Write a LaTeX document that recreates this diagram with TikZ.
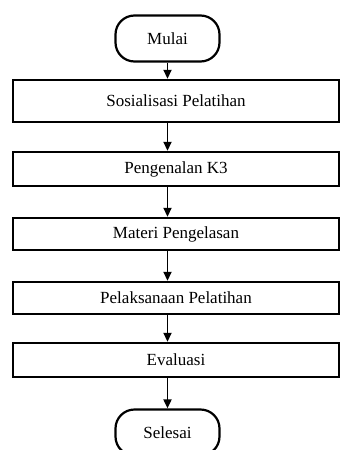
\documentclass[tikz,border=0pt]{standalone}
\usepackage{fontspec}
\setmainfont{Liberation Serif}
\usetikzlibrary{arrows.meta, positioning}

\tikzset{
  proses/.style={draw, line width=2.4pt, minimum width=326pt, minimum height=#1,
                 inner sep=0pt, fill=white},
  proses/.default=33pt,
  terminal/.style={draw, line width=2.2pt, rounded corners=19pt, minimum width=104pt,
                   minimum height=46pt, inner sep=0pt, fill=white},
  panah/.style={-{Triangle[length=9pt,width=8pt]}, line width=1.8pt}
}

\begin{document}
\begin{tikzpicture}[x=1pt, y=-1pt, font=\fontsize{17}{20}\selectfont]
  \useasboundingbox[fill=white] (0,0) rectangle (341,450);
  \clip (0,0) rectangle (341,450);

  \node[terminal] (mulai) at (167.5,38.5) {Mulai};

  \node[proses=42pt] (sos)  at (176,101) {Sosialisasi Pelatihan};
  \node[proses=34pt] (k3)   at (176,169) {Pengenalan K3};
  \node[proses=32pt] (mat)  at (176,234) {Materi Pengelasan};
  \node[proses=32pt] (pel)  at (176,298) {Pelaksanaan Pelatihan};
  \node[proses=34pt] (eval) at (176,360) {Evaluasi};

  \node[terminal] (selesai) at (167.5,432.5) {Selesai};

  % alur dari atas ke bawah
  \draw[panah] (mulai.south) -- (mulai.south |- sos.north);
  \foreach \a/\b in {sos/k3, k3/mat, mat/pel, pel/eval}
    \draw[panah] (mulai.south |- \a.south) -- (mulai.south |- \b.north);
  \draw[panah] (mulai.south |- eval.south) -- (selesai.north);
\end{tikzpicture}
\end{document}
